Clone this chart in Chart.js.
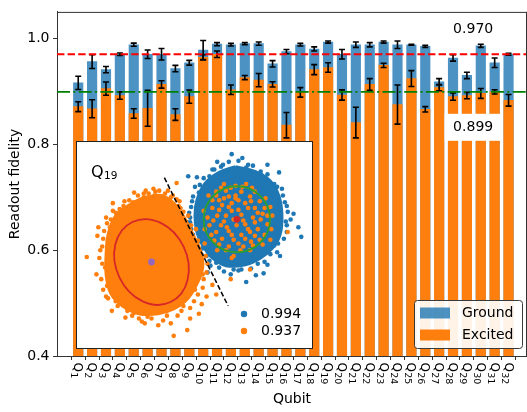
<!DOCTYPE html>
<html>
<head>
<meta charset="utf-8">
<script src="https://cdn.jsdelivr.net/npm/chart.js@4.4.0/dist/chart.umd.min.js"></script>
<style>
  html, body { margin: 0; padding: 0; background: #fff; }
  #wrap { position: relative; width: 527px; height: 412px; overflow: hidden; }
  #main { position: absolute; left: 0; top: 0; }
  #inset { position: absolute; left: 76px; top: 141px; }
</style>
</head>
<body>
<div id="wrap">
  <canvas id="main" width="527" height="412"></canvas>
  <canvas id="inset" width="237" height="208"></canvas>
</div>
<script>
// ---- readout fidelity per qubit ----
const qubitNumbers = [1,2,3,4,5,6,7,8,9,10,11,12,13,14,15,16,17,18,19,20,21,22,23,24,25,26,27,28,29,30,31,32];
const tickLetter = 'Q';
const groundFidelity = [0.916,0.956,0.941,0.970,0.988,0.970,0.970,0.943,0.954,0.978,0.989,0.988,0.990,0.990,0.952,0.975,
                        0.988,0.980,0.993,0.970,0.988,0.988,0.993,0.988,0.988,0.985,0.918,0.963,0.930,0.986,0.954,0.970];
const groundError    = [0.0125,0.013,0.006,0.0025,0.003,0.008,0.011,0.006,0.0045,0.018,0.003,0.0025,0.002,0.003,0.006,0.004,
                        0.0025,0.004,0.002,0.009,0.005,0.004,0.002,0.007,0.001,0.002,0.006,0.006,0.006,0.003,0.009,0.002];
const excitedFidelity = [0.871,0.867,0.905,0.892,0.858,0.868,0.913,0.856,0.890,0.964,0.970,0.903,0.926,0.921,0.913,0.836,
                         0.898,0.941,0.945,0.893,0.841,0.913,0.949,0.875,0.924,0.866,0.907,0.890,0.892,0.896,0.899,0.883];
const excitedError    = [0.0094,0.017,0.0125,0.007,0.009,0.034,0.007,0.011,0.0125,0.005,0.006,0.009,0.004,0.0125,0.005,0.024,
                         0.009,0.0094,0.009,0.0097,0.029,0.011,0.004,0.037,0.015,0.005,0.006,0.007,0.006,0.0094,0.004,0.011];
const seriesNames = ['Ground', 'Excited'];
const meanFidelity = [0.970, 0.899];          // ground mean, excited mean
const yTickValues = [0.4, 0.6, 0.8, 1.0];

// ---- single-shot IQ clouds of Q19 (arbitrary units) ----
const insetQubit = 19;
const groundCloudCore = [[4.3,8.1],[6.3,7.6],[7.9,6.6],[8.8,5.0],[9.1,3.0],[8.9,1.0],[8.1,-0.4],[6.9,-1.4],[5.3,-2.1],
                         [3.3,-2.2],[1.9,-1.4],[0.9,-0.1],[0.3,1.3],[0.1,3.0],[0.3,4.6],[1.1,6.3],[2.6,7.5]];
const groundCloudSpread = [[3.9,9.4],[-0.6,7.1],[0.1,6.0],[-2.7,4.3],[9.1,5.8],[10.3,3.2],[11.1,0.8],[9.6,2.0],[8.8,7.5],
                           [6.9,7.6],[8.9,-1.2],[6.4,-3.2],[5.4,-3.9],[4.6,-2.7],[2.3,-1.9],[1.6,-1.7],[0.9,-0.4],
                           [-0.4,2.8],[-0.7,2.3],[-0.1,1.0],[2.8,8.1],[1.9,7.8],[7.6,-2.1],[8.3,-0.1],[0.8,4.0],
                           [5.6,8.3],[1.4,-2.9],[9.6,4.0],[7.6,8.3],[0.3,7.0],[-0.2,4.5],[0.8,-1.1],
                           [3.6,8.6],[4.6,8.7],[5.4,8.0],[6.1,8.2],[7.0,7.2],[7.6,7.3],[8.3,6.3],[8.6,6.0],[9.2,5.1],
                           [9.4,4.4],[9.7,3.4],[9.5,2.4],[9.6,1.3],[9.3,0.6],[8.7,0.1],[8.6,-0.8],[7.9,-1.0],[7.3,-1.8],
                           [6.6,-2.0],[5.9,-2.5],[4.9,-2.6],[4.1,-2.6],[3.1,-2.8],[2.6,-2.4],[1.7,-2.2],[1.3,-1.2],
                           [0.5,-0.8],[0.4,0.3],[-0.2,0.4],[-0.3,1.6],[-0.4,2.3],[-0.5,3.3],[-0.3,3.9],[-0.1,5.0],
                           [0.5,5.4],[0.6,6.2],[1.0,6.9],[1.6,7.1],[2.1,7.8],[3.0,8.3],[2.4,8.6],[5.0,9.0],[10.0,2.6],
                           [10.8,1.8],[7.2,-3.0],[3.8,-3.1],[0.1,-0.6]];
const excitedCloudCore = [[-4.6,5.0],[-3.4,5.1],[-2.1,4.3],[-0.9,2.6],[-0.1,1.0],[0.7,-0.7],[0.9,-2.4],[0.3,-4.1],
                          [-0.7,-5.7],[-2.1,-6.7],[-3.7,-7.2],[-5.7,-7.2],[-7.4,-6.4],[-8.6,-5.1],[-9.1,-3.1],
                          [-9.1,-1.1],[-8.9,1.0],[-8.1,3.0],[-6.7,4.1],[-5.4,4.8]];
const excitedCloudSpread = [[-11.1,-1.3],[-9.9,1.8],[-10.0,0.9],[-9.1,2.8],[-6.2,5.4],[-7.3,4.0],[-5.2,4.9],[-2.7,5.6],
                            [-1.8,6.4],[-2.9,4.4],[-2.4,2.9],[-1.4,2.6],[-9.4,-4.7],[-9.1,-5.4],[-8.5,-6.9],[-7.1,-7.6],
                            [-5.1,-8.2],[-2.1,-9.5],[-0.4,-7.7],[0.5,-7.2],[1.3,-5.4],[2.3,-5.2],[1.9,-4.2],[0.1,-4.7],
                            [-3.7,-8.4],[-6.2,-7.1],[-10.1,-3.1],[-8.7,0.3],[3.8,-3.6],[5.8,-2.6],[9.7,1.3],[-2.4,-8.2],
                            [-8.1,3.3],[-8.4,4.3],[-4.1,5.1],[-1.4,3.8],[-0.6,1.0],[-0.2,-1.7],[-1.1,-6.4],[-5.7,-7.7],
                            [-7.7,-5.7],[-9.7,-0.6],[-9.2,-2.4],[-6.7,4.6],[-4.7,5.3],[0.9,-3.1],[-0.7,-8.9],[0.8,-6.2],
                            [-8.2,-4.4],[-8.7,1.8],
                            [-5.0,5.6],[-4.2,5.8],[-3.6,5.6],[-3.0,5.3],[-2.4,4.9],[-1.8,4.7],[-1.6,4.0],[-1.1,3.4],
                            [-0.6,3.0],[-0.3,2.0],[0.2,1.6],[0.4,0.4],[1.1,0.1],[1.2,-1.2],[1.4,-2.0],[1.3,-2.9],
                            [1.0,-3.6],[0.9,-4.5],[0.4,-5.2],[0.0,-5.9],[-0.4,-6.6],[-1.3,-6.9],[-1.7,-7.4],[-2.8,-7.4],
                            [-3.2,-7.9],[-4.4,-7.7],[-4.8,-7.5],[-5.4,-8.0],[-6.4,-7.4],[-6.9,-6.9],[-7.9,-6.4],
                            [-8.1,-5.9],[-8.9,-5.6],[-9.0,-4.3],[-9.6,-3.6],[-9.5,-2.0],[-9.8,-1.4],[-9.5,-0.2],
                            [-9.4,0.6],[-9.3,1.4],[-9.0,2.2],[-8.6,2.6],[-8.4,3.5],[-7.7,3.7],[-7.2,4.5],[-6.3,4.4],
                            [-5.8,5.1],[-5.2,5.3],[-4.0,5.5],[-2.2,5.1],[-1.5,4.5]];
const excitedRelaxed = [[2.3,5.5],[3.3,5.6],[4.3,5.1],[4.9,5.5],[5.8,5.0],[6.8,4.5],[7.3,3.8],[6.3,3.8],[5.3,4.3],[3.9,4.3],
                        [2.9,4.1],[1.9,3.8],[2.4,3.0],[3.3,3.0],[4.9,3.1],[6.1,2.8],[6.9,2.6],[7.6,2.1],[6.6,1.6],[5.8,1.3],
                        [4.9,1.0],[3.9,1.0],[2.9,0.6],[2.3,1.3],[1.6,2.0],[3.4,1.8],[4.4,2.0],[5.3,2.1],[2.6,0.0],[3.6,-0.2],
                        [4.6,0.1],[5.9,0.3],[6.8,0.5],[7.3,1.0],[7.6,3.0],[1.4,2.8],[1.9,4.6],[6.3,5.5],[7.4,4.8],[3.1,4.8],
                        [4.3,6.1],[8.1,3.0],[3.3,-0.6],[4.8,-0.6],[5.8,-0.6],[1.8,1.0],[2.3,5.1],[3.9,3.5],[5.6,3.8],[4.6,4.6],
                        [2.8,2.0],[7.1,0.0],[4.1,-1.2],[5.4,6.3],[3.1,6.3],
                        [2.0,2.5],[2.6,3.6],[3.6,3.9],[4.1,2.6],[4.6,3.6],[5.1,2.5],[5.6,1.6],[6.3,2.3],[6.6,3.3],[7.1,3.2],
                        [5.9,4.5],[4.3,4.8],[3.6,5.0],[2.6,4.6],[3.1,2.4],[3.6,1.4],[4.1,0.5],[5.3,0.6],[6.3,0.9],[6.1,-0.1],
                        [5.1,-0.2],[2.1,0.4],[1.1,1.6],[1.0,3.5],[1.5,5.1],[2.8,5.9],[3.8,5.9],[5.0,6.0],[6.0,5.9],[7.9,3.9],
                        [8.0,1.6],[7.9,0.5],[2.4,-0.6],[3.9,-1.4]];
const groundCenter = [4.43, 2.62];
const groundRadius = 3.44;
const excitedCenter = [-4.4, -1.82];
const excitedAxes = [3.68, 4.61];   // minor, major semi-axes
const excitedTilt = 25.5;           // degrees, major axis leaning left at the top
const discriminator = [[-3.07, 6.95], [3.53, -6.38]];
const insetFidelity = [0.994, 0.937];

// ---- styling ----
const FONT = "'DejaVu Sans', sans-serif";
const BLUE = '#1f77b4';
const BLUE_BAR = 'rgba(31,119,180,0.8)';
const ORANGE = '#ff7f0e';
const SPINE = '#333333';
Chart.defaults.font.family = FONT;
Chart.defaults.font.size = 14;
Chart.defaults.color = '#000';

function roundRectPath(ctx, x, y, w, h, r) {
  ctx.beginPath();
  ctx.moveTo(x + r, y);
  ctx.lineTo(x + w - r, y); ctx.quadraticCurveTo(x + w, y, x + w, y + r);
  ctx.lineTo(x + w, y + h - r); ctx.quadraticCurveTo(x + w, y + h, x + w - r, y + h);
  ctx.lineTo(x + r, y + h); ctx.quadraticCurveTo(x, y + h, x, y + h - r);
  ctx.lineTo(x, y + r); ctx.quadraticCurveTo(x, y, x + r, y);
  ctx.closePath();
}

// error bars, mean lines, annotations, x labels, legend
const mainDecor = {
  id: 'mainDecor',
  afterDatasetsDraw(chart) {
    const { ctx, chartArea: a, scales: { x, y } } = chart;
    ctx.save();
    // error bars
    ctx.strokeStyle = '#000';
    ctx.lineWidth = 1.6;
    chart.data.datasets.forEach(ds => {
      ds.data.forEach((p, i) => {
        const e = ds.errors[i];
        const px = x.getPixelForValue(p.x);
        const y1 = y.getPixelForValue(p.y + e);
        const y2 = y.getPixelForValue(p.y - e);
        ctx.beginPath();
        ctx.moveTo(px, y1); ctx.lineTo(px, y2);
        ctx.moveTo(px - 3, y1); ctx.lineTo(px + 3, y1);
        ctx.moveTo(px - 3, y2); ctx.lineTo(px + 3, y2);
        ctx.stroke();
      });
    });
    // mean lines
    const lineStyles = [
      { color: '#ff0000', dash: [7.4, 3.2] },
      { color: '#008000', dash: [13, 3.3, 2.1, 3.3] }
    ];
    meanFidelity.forEach((m, k) => {
      const py = y.getPixelForValue(m);
      ctx.strokeStyle = lineStyles[k].color;
      ctx.lineWidth = 1.8;
      ctx.setLineDash(lineStyles[k].dash);
      ctx.beginPath();
      ctx.moveTo(a.left, py); ctx.lineTo(a.right, py);
      ctx.stroke();
    });
    ctx.setLineDash([]);
    // mean value labels
    const labelPos = [[29.45, 1.0184], [29.45, 0.832]];
    ctx.font = '14px ' + FONT;
    ctx.textAlign = 'center';
    ctx.textBaseline = 'middle';
    meanFidelity.forEach((m, k) => {
      const cx = x.getPixelForValue(labelPos[k][0]);
      const cy = y.getPixelForValue(labelPos[k][1]);
      ctx.fillStyle = '#fff';
      ctx.fillRect(cx - 28.5, cy - 13.5, 57, 27);
      ctx.fillStyle = '#000';
      ctx.fillText(m.toFixed(3), cx, cy + 0.5);
    });
    ctx.restore();
  },
  afterDraw(chart) {
    const { ctx, chartArea: a, scales: { x } } = chart;
    ctx.save();
    // top and right frame lines
    ctx.strokeStyle = SPINE;
    ctx.lineWidth = 1;
    ctx.beginPath();
    ctx.moveTo(a.left, a.top + 0.5); ctx.lineTo(a.right, a.top + 0.5);
    ctx.moveTo(a.right - 0.5, a.top); ctx.lineTo(a.right - 0.5, a.bottom);
    ctx.stroke();
    // rotated qubit labels with subscripts
    ctx.fillStyle = '#000';
    ctx.textAlign = 'left';
    ctx.textBaseline = 'alphabetic';
    qubitNumbers.forEach(q => {
      const px = x.getPixelForValue(q);
      ctx.save();
      ctx.translate(px, a.bottom + 6.5);
      ctx.rotate(Math.PI / 2);
      ctx.font = '12px ' + FONT;
      ctx.fillText(tickLetter, 0, 4);
      const w = ctx.measureText(tickLetter).width;
      ctx.font = '9.5px ' + FONT;
      ctx.fillText(String(q), w + 0.2, 6.8);
      ctx.restore();
    });
    // legend
    const lx = a.right - 113, ly = a.bottom - 56;
    roundRectPath(ctx, lx + 0.5, ly + 0.5, 108, 48, 3);
    ctx.fillStyle = 'rgba(255,255,255,0.9)';
    ctx.fill();
    ctx.strokeStyle = '#3a3a3a';
    ctx.lineWidth = 1;
    ctx.stroke();
    ctx.font = '14px ' + FONT;
    ctx.textBaseline = 'middle';
    chart.data.datasets.forEach((ds, k) => {
      const ry = ly + 7.5 + k * 22;
      ctx.fillStyle = ds.backgroundColor;
      ctx.fillRect(lx + 6, ry, 30, 11);
      ctx.fillStyle = '#000';
      ctx.fillText(ds.label, lx + 48, ry + 6);
    });
    ctx.restore();
  }
};

const mainChart = new Chart(document.getElementById('main'), {
  type: 'bar',
  data: {
    datasets: [
      {
        label: seriesNames[0],
        data: qubitNumbers.map((q, i) => ({ x: q, y: groundFidelity[i] })),
        errors: groundError,
        backgroundColor: BLUE_BAR,
        borderWidth: 0,
        grouped: false,
        barThickness: 9.5,
        order: 2
      },
      {
        label: seriesNames[1],
        data: qubitNumbers.map((q, i) => ({ x: q, y: excitedFidelity[i] })),
        errors: excitedError,
        backgroundColor: ORANGE,
        borderWidth: 0,
        grouped: false,
        barThickness: 9.5,
        order: 1
      }
    ]
  },
  options: {
    responsive: false,
    animation: false,
    devicePixelRatio: 1,
    layout: { padding: { top: 10, right: 0, bottom: 0, left: 0 } },
    plugins: { legend: { display: false }, tooltip: { enabled: false } },
    scales: {
      x: {
        type: 'linear',
        min: 0,
        max: 32.8,
        afterBuildTicks: s => { s.ticks = qubitNumbers.map(v => ({ value: v })); },
        afterFit: s => { s.height = 56; },
        grid: { drawOnChartArea: false, drawTicks: true, tickLength: 4, color: SPINE },
        border: { display: true, color: SPINE, width: 1 },
        ticks: { autoSkip: false, maxRotation: 0, callback: () => '' },
        title: { display: true, text: 'Qubit', font: { size: 14 }, padding: { top: 0, bottom: 4 } }
      },
      y: {
        min: 0.4,
        max: 1.05,
        afterBuildTicks: s => { s.ticks = yTickValues.map(v => ({ value: v })); },
        afterFit: s => { s.width = 57; },
        grid: { drawOnChartArea: false, drawTicks: true, tickLength: 4, color: SPINE },
        border: { display: true, color: SPINE, width: 1 },
        ticks: { font: { size: 14 }, padding: 3.5, callback: v => Number(v).toFixed(1) },
        title: { display: true, text: 'Readout fidelity', font: { size: 14 }, padding: { top: 7, bottom: 0 } }
      }
    }
  },
  plugins: [mainDecor]
});

// ---- IQ-plane inset ----
const toPts = arr => arr.map(([px, py]) => ({ x: px, y: py }));
const closedLoop = arr => toPts(arr.concat([arr[0]]));

const insetDecor = {
  id: 'insetDecor',
  beforeDraw(chart) {
    const ctx = chart.ctx;
    ctx.save();
    ctx.fillStyle = '#fff';
    ctx.fillRect(0, 0, chart.width, chart.height);
    ctx.restore();
  },
  afterDatasetsDraw(chart) {
    const { ctx, scales: { x, y } } = chart;
    const sx = Math.abs(x.getPixelForValue(1) - x.getPixelForValue(0));
    const sy = Math.abs(y.getPixelForValue(1) - y.getPixelForValue(0));
    ctx.save();
    ctx.lineWidth = 1.8;
    ctx.strokeStyle = '#d62728';
    ctx.beginPath();
    ctx.ellipse(x.getPixelForValue(excitedCenter[0]), y.getPixelForValue(excitedCenter[1]),
                excitedAxes[0] * sx, excitedAxes[1] * sy, -excitedTilt * Math.PI / 180, 0, 2 * Math.PI);
    ctx.stroke();
    ctx.strokeStyle = '#2ca02c';
    ctx.beginPath();
    ctx.ellipse(x.getPixelForValue(groundCenter[0]), y.getPixelForValue(groundCenter[1]),
                groundRadius * sx, groundRadius * sy, 0, 0, 2 * Math.PI);
    ctx.stroke();
    ctx.restore();
  },
  afterDraw(chart) {
    const { ctx, chartArea: a } = chart;
    ctx.save();
    // qubit name
    ctx.fillStyle = '#000';
    ctx.textAlign = 'left';
    ctx.textBaseline = 'alphabetic';
    ctx.font = '16px ' + FONT;
    ctx.fillText(tickLetter, a.left + 11, a.top + 31.5);
    const w = ctx.measureText(tickLetter).width;
    ctx.font = '10.5px ' + FONT;
    ctx.fillText(String(insetQubit), a.left + 11 + w + 0.5, a.top + 34);
    // fidelity legend
    const colors = [BLUE, ORANGE];
    ctx.font = '14px ' + FONT;
    ctx.textBaseline = 'middle';
    insetFidelity.forEach((f, k) => {
      const cy = a.top + 169 + k * 17;
      ctx.fillStyle = colors[k];
      ctx.beginPath();
      ctx.arc(a.left + 164, cy, 3.2, 0, 2 * Math.PI);
      ctx.fill();
      ctx.fillStyle = '#000';
      ctx.fillText(f.toFixed(3), a.left + 181, cy + 0.5);
    });
    // frame
    ctx.strokeStyle = '#222';
    ctx.lineWidth = 1;
    ctx.strokeRect(0.5, 0.5, chart.width - 1, chart.height - 1);
    ctx.restore();
  }
};

const insetChart = new Chart(document.getElementById('inset'), {
  type: 'scatter',
  data: {
    datasets: [
      { type: 'line', data: closedLoop(groundCloudCore), showLine: true, fill: 'shape', tension: 0.4,
        backgroundColor: BLUE, borderColor: BLUE, borderWidth: 3, pointRadius: 0, order: 10 },
      { data: toPts(groundCloudSpread), backgroundColor: BLUE, pointRadius: 2.3, borderWidth: 0, order: 9 },
      { type: 'line', data: closedLoop(excitedCloudCore), showLine: true, fill: 'shape', tension: 0.4,
        backgroundColor: ORANGE, borderColor: ORANGE, borderWidth: 3, pointRadius: 0, order: 8 },
      { data: toPts(excitedCloudSpread), backgroundColor: ORANGE, pointRadius: 2.3, borderWidth: 0, order: 7 },
      { data: toPts(excitedRelaxed), backgroundColor: ORANGE, pointRadius: 2.3, borderWidth: 0, order: 6 },
      { type: 'line', data: toPts(discriminator), showLine: true, fill: false, borderColor: '#000',
        borderWidth: 1.5, borderDash: [5, 2.5], pointRadius: 0, order: 5 },
      { data: toPts([groundCenter]), backgroundColor: '#d62728', pointRadius: 3.4, borderWidth: 0, order: 2 },
      { data: toPts([excitedCenter]), backgroundColor: '#9467bd', pointRadius: 3.4, borderWidth: 0, order: 1 }
    ]
  },
  options: {
    responsive: false,
    animation: false,
    devicePixelRatio: 1,
    layout: { padding: 0 },
    plugins: { legend: { display: false }, tooltip: { enabled: false } },
    scales: {
      x: { type: 'linear', display: false, min: -11.8, max: 11.9 },
      y: { type: 'linear', display: false, min: -10.45, max: 10.35 }
    }
  },
  plugins: [insetDecor]
});
</script>
</body>
</html>
